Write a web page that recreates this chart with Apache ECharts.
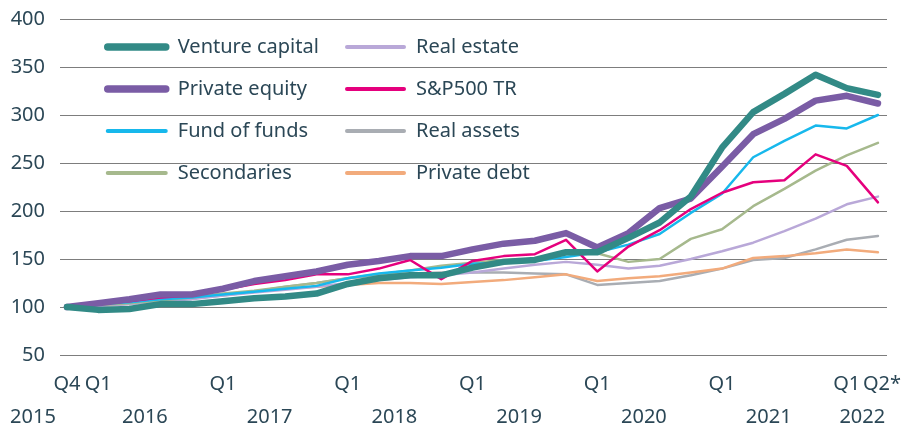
<!DOCTYPE html>
<html>
<head>
<meta charset="utf-8">
<script src="https://cdn.jsdelivr.net/npm/echarts@6/dist/echarts.min.js"></script>
<style>
  html, body { margin: 0; padding: 0; background: #fff; }
  #main { width: 904px; height: 430px; }
</style>
</head>
<body>
<div id="main"></div>
<script>
// quarters Q4 2015 .. Q2 2022
var categories = ['Q4 2015',
	'Q1 2016', 'Q2 2016', 'Q3 2016', 'Q4 2016',
	'Q1 2017', 'Q2 2017', 'Q3 2017', 'Q4 2017',
	'Q1 2018', 'Q2 2018', 'Q3 2018', 'Q4 2018',
	'Q1 2019', 'Q2 2019', 'Q3 2019', 'Q4 2019',
	'Q1 2020', 'Q2 2020', 'Q3 2020', 'Q4 2020',
	'Q1 2021', 'Q2 2021', 'Q3 2021', 'Q4 2021',
	'Q1 2022', 'Q2 2022'];
var quarterLabels = ['Q4', 'Q1', '', '', '', 'Q1', '', '', '', 'Q1', '', '', '', 'Q1', '', '', '',
	'Q1', '', '', '', 'Q1', '', '', '', 'Q1', 'Q2*'];
var yearLabels = ['2015', '', '2016', '', '', '', '2017', '', '', '', '2018', '', '', '', '2019', '', '', '',
	'2020', '', '', '', '2021', '', '', '2022', ''];
var yTicks = [50, 100, 150, 200, 250, 300, 350, 400];

var ventureCapital = [100, 97, 98, 103, 103, 106, 109, 111, 114, 124, 130, 133, 133, 141, 147, 149, 157, 157,
	172, 188, 215, 266, 303, 322, 342, 328, 321];
var privateEquity = [100, 104, 108, 113, 113, 119, 127, 132, 137, 144, 148, 153, 153, 160, 166, 169, 177, 162,
	177, 203, 213, 246, 280, 296, 315, 320, 312];
var fundOfFunds = [100, 103, 105, 108, 110, 113, 116, 119, 122, 130, 135, 138, 141, 145, 146, 148, 152, 157,
	165, 176, 198, 218, 256, 273, 289, 286, 300];
var secondaries = [100, 102, 104, 107, 110, 114, 117, 121, 125, 130, 134, 138, 143, 146, 149, 150, 155, 156,
	147, 150, 171, 181, 205, 223, 242, 258, 271];
var realEstate = [100, 101, 103, 106, 108, 112, 115, 118, 121, 125, 128, 131, 133, 136, 140, 144, 147, 144,
	140, 143, 150, 158, 167, 179, 192, 207, 215];
var sp500 = [100, 103, 106, 110, 112, 118, 124, 128, 134, 134, 140, 149, 129, 148, 153, 155, 170, 137,
	163, 180, 202, 219, 230, 232, 259, 247, 209];
var realAssets = [100, 101, 103, 106, 109, 112, 116, 121, 125, 130, 133, 135, 136, 136, 136, 135, 134, 123,
	125, 127, 133, 140, 149, 151, 160, 170, 174];
var privateDebt = [100, 104, 106, 109, 111, 113, 116, 119, 121, 123, 125, 125, 124, 126, 128, 131, 134, 127,
	130, 132, 136, 140, 151, 153, 156, 160, 157];

var textColor = '#2b4756';
var fontName = 'Noto Sans';

var myChart = echarts.init(document.getElementById('main'));

function line(name, data, color, width) {
	return {
		name: name,
		type: 'line',
		xAxisIndex: 0,
		yAxisIndex: 0,
		data: data,
		symbol: 'none',
		smooth: false,
		lineStyle: { color: color, width: width, cap: 'round', join: 'round' },
		itemStyle: { color: color },
		emphasis: { disabled: true }
	};
}

function legendItem(name, width) {
	return { name: name, lineStyle: { width: width, cap: 'round' } };
}

var legendText = { color: textColor, fontSize: 20, fontFamily: fontName, padding: [0, 0, 0, 7] };

option = {
	animation: false,
	textStyle: { fontFamily: fontName },
	grid: [
		{ left: 67, right: 21, top: 19, bottom: 75 },
		{ left: 60, right: 17, top: 19, bottom: 75 }
	],
	legend: [{
		orient: 'vertical',
		left: 99,
		top: 32,
		itemWidth: 58,
		itemHeight: 14,
		itemGap: 22,
		itemStyle: { opacity: 0 },
		textStyle: legendText,
		data: [legendItem('Venture capital', 7.5), legendItem('Private equity', 7.5),
			legendItem('Fund of funds', 4), legendItem('Secondaries', 4)]
	}, {
		orient: 'vertical',
		left: 340,
		top: 32,
		itemWidth: 57,
		itemHeight: 14,
		itemGap: 22,
		itemStyle: { opacity: 0 },
		textStyle: legendText,
		data: [legendItem('Real estate', 4), legendItem('S&P500 TR', 4),
			legendItem('Real assets', 4), legendItem('Private debt', 4)]
	}],
	xAxis: [{
		type: 'category',
		gridIndex: 0,
		boundaryGap: false,
		data: categories,
		axisLine: { show: false },
		axisTick: { show: false },
		axisLabel: {
			interval: 0,
			margin: 19,
			color: textColor,
			fontSize: 20,
			formatter: function (v, i) {
				var q = quarterLabels[i];
				if (q === 'Q2*') return '{e|' + q + '}';
				return q;
			},
			rich: {
				e: { color: textColor, fontSize: 20, padding: [0, 0, 0, 8] }
			}
		}
	}, {
		type: 'category',
		gridIndex: 0,
		boundaryGap: false,
		position: 'bottom',
		offset: 33,
		data: categories,
		axisLine: { show: false },
		axisTick: { show: false },
		axisLabel: {
			interval: 0,
			margin: 19,
			color: textColor,
			fontSize: 20,
			formatter: function (v, i) {
				var y = yearLabels[i];
				if (!y) return '';
				return i === 0 ? '{l|' + y + '}' : '{r|' + y + '}';
			},
			rich: {
				l: { color: textColor, fontSize: 20, padding: [0, 68, 0, 0] },
				r: { color: textColor, fontSize: 20, padding: [0, 0, 0, 31] }
			}
		}
	}, {
		type: 'value',
		gridIndex: 1,
		show: false
	}],
	yAxis: [{
		type: 'value',
		gridIndex: 0,
		min: yTicks[0],
		max: yTicks[yTicks.length - 1],
		interval: 50,
		show: false
	}, {
		type: 'value',
		gridIndex: 1,
		min: yTicks[0],
		max: yTicks[yTicks.length - 1],
		interval: 50,
		axisLine: { show: false },
		axisTick: { show: false },
		splitLine: { lineStyle: { color: '#7d7d7d', width: 1.2 } },
		axisLabel: { color: textColor, fontSize: 20, margin: 15 }
	}],
	series: [
		line('Real assets', realAssets, '#a9adb3', 2.5),
		line('Private debt', privateDebt, '#f2ab7c', 2.5),
		line('Real estate', realEstate, '#b9a8d8', 2.5),
		line('Secondaries', secondaries, '#a6b98d', 2.5),
		line('Fund of funds', fundOfFunds, '#17b8ec', 2.5),
		line('S&P500 TR', sp500, '#e5007d', 2.5),
		line('Private equity', privateEquity, '#7a5ca5', 6.5),
		line('Venture capital', ventureCapital, '#328a86', 6.5)
	]
};

myChart.setOption(option);
</script>
</body>
</html>
